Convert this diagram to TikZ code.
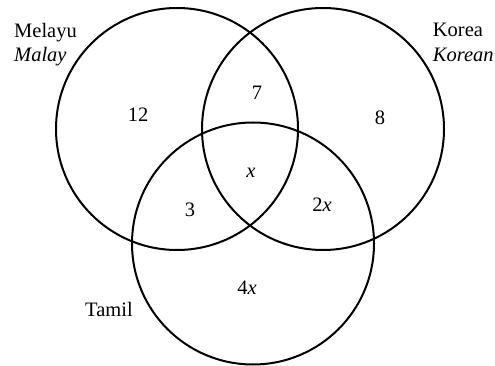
\documentclass[tikz,border=0pt]{standalone}
\usepackage{fontspec}
\setmainfont{Liberation Serif}
\usetikzlibrary{positioning}

\begin{document}
\begin{tikzpicture}[
    x=1pt, y=-1pt,
    set/.style={draw, circle, line width=2pt, minimum size=242pt, inner sep=0pt},
    lbl/.style={font=\fontsize{20.5}{24}\selectfont, inner sep=0pt},
    setname/.style={lbl, anchor=base west}
]
\useasboundingbox (0,0) rectangle (495,366);

% the three sets
\node[set] (malay) at (177,129) {};
\node[set] (korean) at (323,129) {};
\node[set] (tamil) at (253,243.5) {};

% set names
\node[setname] (malayname) at (14,37.7) {Melayu};
\node[setname] (malayen) at (14,61.7) {\textit{Malay}};
\node[setname] (koreanname) at (432.7,36.7) {Korea};
\node[setname] (koreanen) at (432.7,61.7) {\textit{Korean}};
\node[setname] (tamilname) at (85,316) {Tamil};

% regions
\node[lbl] (onlym) at (138,115) {12};
\node[lbl] (mk) at (257,93) {7};
\node[lbl] (onlyk) at (380,118) {8};
\node[lbl] (all) at (251,173) {\textit{x}};
\node[lbl] (mt) at (190,210) {3};
\node[lbl] (kt) at (322,205) {2\textit{x}};
\node[lbl] (onlyt) at (247,288) {4\textit{x}};
\end{tikzpicture}
\end{document}
